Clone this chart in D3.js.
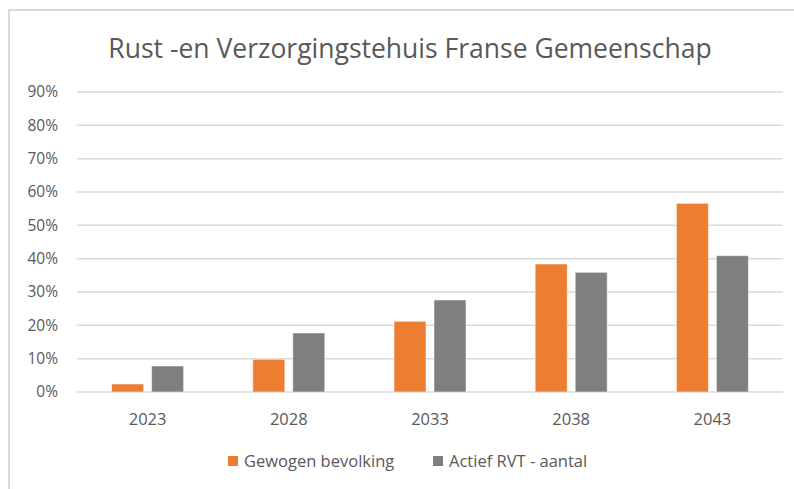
<!DOCTYPE html>
<html>
<head>
<meta charset="utf-8">
<script src="https://cdn.jsdelivr.net/npm/d3@7"></script>
<style>
  body { margin: 0; background: #fff; }
  svg { display: block; }
</style>
</head>
<body>
<svg id="chart"></svg>
<script>
// data
const years = ['2023', '2028', '2033', '2038', '2043'];
const seriesNames = ['Gewogen bevolking', 'Actief RVT - aantal'];
const gewogen = [0.024, 0.098, 0.212, 0.384, 0.566];
const actief = [0.078, 0.177, 0.276, 0.359, 0.409];
const yTicks = [0, 0.1, 0.2, 0.3, 0.4, 0.5, 0.6, 0.7, 0.8, 0.9];
const colors = ['#ED7D31', '#7F7F7F'];

const width = 794;
const height = 489;
const margin = {top: 92, left: 77, right: 11, bottom: 97};
const font = '"Open Sans", sans-serif';

const svg = d3.select('#chart')
  .attr('width', width)
  .attr('height', height);

// chart frame (light grey border, runs off right/bottom)
svg.append('path')
  .attr('d', `M9,${height} V10 H${width}`)
  .attr('fill', 'none')
  .attr('stroke', '#d9d9d9')
  .attr('stroke-width', 2);

const x = d3.scaleBand()
  .domain(years)
  .range([margin.left, width - margin.right]);

const y = d3.scaleLinear()
  .domain([0, 0.9])
  .range([height - margin.bottom, margin.top]);

// gridlines
svg.append('g')
  .selectAll('line')
  .data(yTicks)
  .enter().append('line')
    .attr('x1', margin.left)
    .attr('x2', width - margin.right)
    .attr('y1', d => y(d))
    .attr('y2', d => y(d))
    .attr('stroke', '#d9d9d9')
    .attr('stroke-width', 1.5);

// y labels
svg.append('g')
  .selectAll('text')
  .data(yTicks)
  .enter().append('text')
    .attr('x', 58)
    .attr('y', d => y(d))
    .attr('dy', '0.35em')
    .attr('text-anchor', 'end')
    .attr('font-family', font)
    .attr('font-size', 15.5)
    .attr('fill', '#595959')
    .text(d => d3.format('.0%')(d));

// bars
const barW = 32;
const gap = 8;
const series = [gewogen, actief];
series.forEach((vals, si) => {
  svg.append('g')
    .selectAll('rect')
    .data(vals)
    .enter().append('rect')
      .attr('x', (d, i) => x(years[i]) + x.bandwidth() / 2 + (si === 0 ? -gap / 2 - barW : gap / 2))
      .attr('y', d => y(d))
      .attr('width', barW)
      .attr('height', d => y(0) - y(d))
      .attr('fill', colors[si])
      .attr('stroke', '#ffffff')
      .attr('stroke-opacity', 0.5)
      .attr('stroke-width', 1);
});

// x labels
svg.append('g')
  .selectAll('text')
  .data(years)
  .enter().append('text')
    .attr('x', d => x(d) + x.bandwidth() / 2)
    .attr('y', 425)
    .attr('text-anchor', 'middle')
    .attr('font-family', font)
    .attr('font-size', 16.5)
    .attr('fill', '#595959')
    .text(d => d);

// title
svg.append('text')
  .attr('x', 410)
  .attr('y', 58)
  .attr('text-anchor', 'middle')
  .attr('font-family', font)
  .attr('font-size', 26.5)
  .attr('fill', '#595959')
  .text('Rust -en Verzorgingstehuis Franse Gemeenschap');

// legend
const legendX = [228, 433];
seriesNames.forEach((name, i) => {
  svg.append('rect')
    .attr('x', legendX[i])
    .attr('y', 456)
    .attr('width', 10)
    .attr('height', 10)
    .attr('fill', colors[i]);
  svg.append('text')
    .attr('x', legendX[i] + 16)
    .attr('y', 467)
    .attr('font-family', font)
    .attr('font-size', 16.5)
    .attr('fill', '#595959')
    .text(name);
});
</script>
</body>
</html>
